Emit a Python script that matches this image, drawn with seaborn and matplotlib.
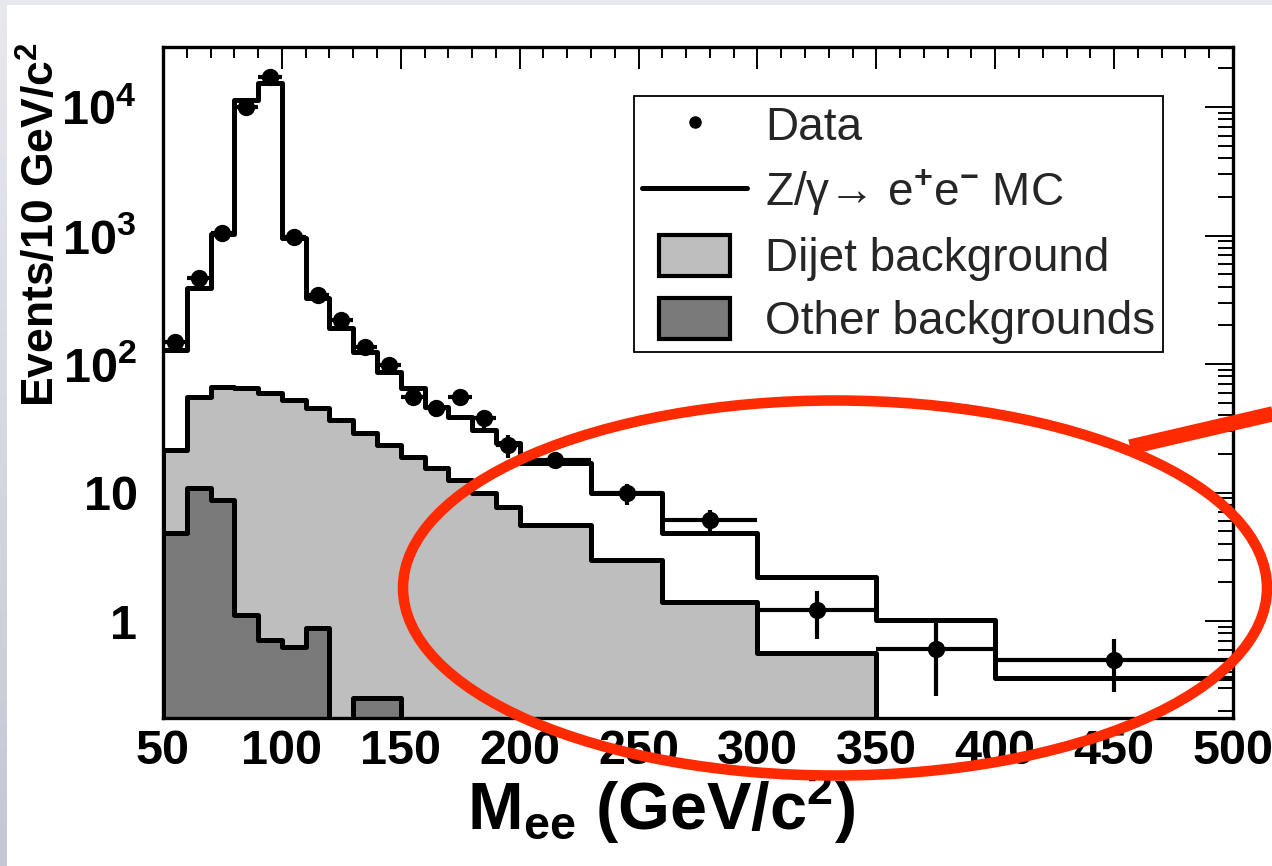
import numpy as np
import pandas as pd
import matplotlib
matplotlib.use("Agg")
import matplotlib.pyplot as plt
import seaborn as sns
from matplotlib.patches import Ellipse, Patch, Rectangle
from matplotlib.lines import Line2D
from matplotlib.legend_handler import HandlerPatch
from matplotlib.colors import LinearSegmentedColormap
from matplotlib.ticker import FixedLocator, FixedFormatter, MultipleLocator, LogLocator, NullFormatter

# ---------------- data ----------------
bin_edges = [50, 60, 70, 80, 90, 100, 110, 120, 130, 140, 150, 160, 170, 180, 190,
             200, 230, 260, 300, 350, 400, 500]
other_bg = [4.84, 10.8, 8.74, 1.11, 0.71, 0.63, 0.88, 0, 0.25, 0.25, 0, 0, 0, 0, 0,
            0, 0, 0, 0, 0, 0]
dijet_bg = [16.6, 44.6, 57.5, 64.0, 58.8, 51.9, 44.5, 36.7, 28.8, 23.2, 18.9, 15.5, 12.5,
            9.9, 7.7, 5.6, 2.98, 1.41, 0.56, 0, 0]
zee_mc = [107, 333, 964, 11235, 15240, 899, 280, 153, 96, 63.6, 45.8, 31.0, 26.4, 20.7,
          16.5, 11.3, 6.9, 3.4, 1.65, 1.02, 0.36]
data_vals = [149, 464, 1050, 10050, 17200, 980, 344, 220, 136, 98, 55.7, 45.2, 55.7, 37.8,
             23.4, 17.9, 9.86, 6.11, 1.22, 0.61, 0.50]
data_err = [12.2, 21.5, 32.4, 100, 131, 31.3, 18.5, 14.8, 11.7, 9.9, 7.5, 6.7, 7.5, 6.1,
            4.8, 2.44, 1.81, 1.24, 0.49, 0.35, 0.22]

x_tick_values = [50, 100, 150, 200, 250, 300, 350, 400, 450, 500]
y_tick_values = [1, 10, 100, 1000, 10000]
y_tick_labels = [r'$\mathbf{1}$', r'$\mathbf{10}$', r'$\mathbf{10^{2}}$',
                 r'$\mathbf{10^{3}}$', r'$\mathbf{10^{4}}$']
legend_labels = ['Data', 'Z/γ→ e$^{+}$e$^{-}$ MC',
                 'Dijet background', 'Other backgrounds']
x_title = r'M$_{\mathbf{ee}}$ (GeV/c$^{\mathbf{2}}$)'
y_title = r'Events/10 GeV/c$^{\mathbf{2}}$'

# ---------------- style ----------------
sns.set_style("white")
plt.rcParams['font.family'] = ['Liberation Sans', 'DejaVu Sans']
plt.rcParams['font.weight'] = 'bold'
plt.rcParams['mathtext.fontset'] = 'custom'
plt.rcParams['mathtext.rm'] = 'Liberation Sans'
plt.rcParams['mathtext.it'] = 'Liberation Sans:italic'
plt.rcParams['mathtext.bf'] = 'Liberation Sans:bold'
plt.rcParams['axes.unicode_minus'] = False

LIGHT = '#BEBEBE'
DARK = '#7A7A7A'
RED = '#FF2A00'
LW = 3.6

W, H = 1272, 866
fig = plt.figure(figsize=(W / 100, H / 100), dpi=100, facecolor='white')

# slide background strips
strip_ax = fig.add_axes([0, 0, 7 / W, 1])
grad = np.linspace(0, 1, 256).reshape(-1, 1)
cmap = LinearSegmentedColormap.from_list('bgstrip', ['#E8E9EE', '#C3C7D6'])
strip_ax.imshow(grad, aspect='auto', cmap=cmap, extent=[0, 1, 0, 1], origin='upper')
strip_ax.set_axis_off()
fig.patches.append(Rectangle((0, 1 - 5 / H), 1, 5 / H, transform=fig.transFigure,
                             facecolor='#E7E8ED', edgecolor='none', zorder=0))

ax = fig.add_axes([163 / W, 1 - 718 / H, (1233 - 163) / W, (718 - 47) / H])
ax.set_facecolor('white')
ax.set_yscale('log')

edges = np.array(bin_edges, dtype=float)
centers = 0.5 * (edges[:-1] + edges[1:])
half_w = 0.5 * np.diff(edges)
lvl_other = np.array(other_bg, dtype=float)
lvl_dijet = lvl_other + np.array(dijet_bg, dtype=float)
lvl_total = lvl_dijet + np.array(zee_mc, dtype=float)

df = pd.DataFrame({'mass': centers, 'other': lvl_other, 'dijet': lvl_dijet,
                   'total': lvl_total, 'data': data_vals})
bins_list = [float(b) for b in bin_edges]

# stacked histograms
sns.histplot(data=df, x='mass', weights='dijet', bins=bins_list, element='step', fill=True,
             color=LIGHT, alpha=1, edgecolor='black', linewidth=LW, ax=ax)
sns.histplot(data=df, x='mass', weights='other', bins=bins_list, element='step', fill=True,
             color=DARK, alpha=1, edgecolor='black', linewidth=LW, ax=ax)
sns.histplot(data=df, x='mass', weights='total', bins=bins_list, element='step', fill=False,
             color='black', linewidth=LW, ax=ax)

# data points
ax.errorbar(centers, data_vals, yerr=data_err, xerr=half_w, fmt='none',
            ecolor='black', elinewidth=3.0, capsize=0, zorder=4)
sns.scatterplot(data=df, x='mass', y='data', color='black', s=155, linewidth=0,
                zorder=5, ax=ax)

ax.set_xlim(50, 500)
ax.set_ylim(0.176, 29300)
ax.set_xlabel('')
ax.set_ylabel('')

ax.xaxis.set_major_locator(FixedLocator(x_tick_values))
ax.xaxis.set_minor_locator(MultipleLocator(10))
ax.yaxis.set_major_locator(FixedLocator(y_tick_values))
ax.yaxis.set_major_formatter(FixedFormatter(y_tick_labels))
ax.yaxis.set_minor_locator(LogLocator(base=10, subs=np.arange(2, 10)))
ax.yaxis.set_minor_formatter(NullFormatter())

ax.tick_params(which='both', direction='in', top=True, right=True, color='black',
               labelsize=35, labelcolor='black')
ax.tick_params(axis='y', which='major', length=20, width=1.4, pad=19)
ax.tick_params(axis='y', which='minor', length=10.5, width=1.4)
ax.tick_params(axis='x', which='major', length=16, width=1.4, pad=8)
ax.tick_params(axis='x', which='minor', length=8, width=1.4)
for lab in ax.get_xticklabels() + ax.get_yticklabels():
    lab.set_fontweight('bold')
for sp in ax.spines.values():
    sp.set_visible(True)
    sp.set_color('black')
    sp.set_linewidth(2.4)
    sp.set_zorder(6)

# legend
class ShortBox(HandlerPatch):
    def create_artists(self, legend, orig_handle, xdescent, ydescent, width, height,
                       fontsize, trans):
        w = width * 0.667
        x0 = -xdescent + (width - w) / 2
        p = Rectangle((x0, -ydescent), w, height, facecolor=orig_handle.get_facecolor(),
                      edgecolor='black', linewidth=3.0, transform=trans)
        return [p]

handles = [
    Line2D([], [], marker='o', ls='none', color='black', markersize=8),
    Line2D([], [], color='black', lw=LW),
    Patch(facecolor=LIGHT, edgecolor='black'),
    Patch(facecolor=DARK, edgecolor='black'),
]
leg = ax.legend(handles, legend_labels, loc='upper left',
                bbox_to_anchor=(634 / W, 1 - 96 / H), bbox_transform=fig.transFigure,
                frameon=True, fancybox=False, shadow=False, framealpha=1,
                edgecolor='black', borderpad=0.17, borderaxespad=0,
                handlelength=2.3, handleheight=1.0, labelspacing=0.37,
                handletextpad=0.39, prop={'size': 33, 'weight': 'normal'},
                handler_map={Patch: ShortBox()})
leg.get_frame().set_linewidth(1.3)
leg.set_zorder(7)

# axis titles
fig.text(661 / W, 1 - 830 / H, x_title, ha='center', va='baseline',
         fontsize=48, fontweight='bold', color='black')
fig.text(42 / W, 1 - 225 / H, y_title, ha='center', va='center', rotation=90,
         fontsize=32, fontweight='bold', color='black')

# red annotation ellipse and arrow stroke
fig.patches.append(Ellipse((835 / W, 1 - 588 / H), 864 / W, 375 / H,
                           transform=fig.transFigure, facecolor='none',
                           edgecolor=RED, linewidth=7.6, zorder=10))
fig.lines.append(Line2D([1130 / W, 1285 / W], [1 - 447 / H, 1 - 411 / H],
                        transform=fig.transFigure, color=RED, linewidth=11,
                        solid_capstyle='butt', zorder=10))

fig.savefig('out.png', dpi=100, facecolor='white')
